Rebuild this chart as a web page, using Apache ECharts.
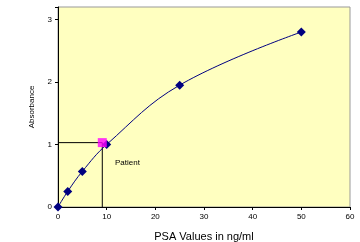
<!DOCTYPE html>
<html>
<head>
<meta charset="utf-8">
<script src="https://cdn.jsdelivr.net/npm/echarts@6/dist/echarts.min.js"></script>
<style>
  html, body { margin: 0; padding: 0; background: #fff; }
  #chart { width: 360px; height: 242px; }
</style>
</head>
<body>
<div id="chart"></div>
<script>
// standard curve
const psaValues = [0, 2, 5, 10, 25, 50];
const absorbance = [0, 0.25, 0.57, 1.0, 1.95, 2.8];
// patient sample
const patientPsa = [9.1];
const patientAbs = [1.03];

const chart = echarts.init(document.getElementById('chart'));

const curve = psaValues.map((x, i) => [x, absorbance[i]]);
const patient = patientPsa.map((x, i) => [x, patientAbs[i]]);
// drop lines from patient point to the axes
const guide = [[0, patientAbs[0]], [patientPsa[0], patientAbs[0]], [patientPsa[0], 0]];

chart.setOption({
  animation: false,
  grid: {
    left: 58,
    right: 10,
    top: 7,
    bottom: 35,
    outerBoundsMode: 'none',
    containLabel: false,
    show: true,
    backgroundColor: '#ffffc0',
    borderColor: '#999999',
    borderWidth: 1
  },
  xAxis: {
    type: 'value',
    min: 0,
    max: 60,
    interval: 10,
    name: 'PSA Values in ng/ml',
    nameLocation: 'middle',
    nameGap: 24,
    nameTextStyle: { fontFamily: 'Liberation Sans', fontSize: 11, color: '#000' },
    axisLine: { show: true, lineStyle: { color: '#000' } },
    axisTick: { show: true, length: 3, lineStyle: { color: '#000' } },
    axisLabel: { fontFamily: 'Liberation Sans', fontSize: 8, color: '#000', margin: 6 },
    splitLine: { show: false }
  },
  yAxis: {
    type: 'value',
    min: 0,
    max: 3.2,
    interval: 1,
    name: 'Absorbance',
    nameLocation: 'middle',
    nameGap: 22,
    nameTextStyle: { fontFamily: 'Liberation Sans', fontSize: 8, color: '#000' },
    axisLine: { show: true, lineStyle: { color: '#000' } },
    axisTick: { show: true, length: 3, lineStyle: { color: '#000' } },
    axisLabel: {
      fontFamily: 'Liberation Sans', fontSize: 8, color: '#000', margin: 6,
      formatter: v => (Number.isInteger(v) ? v : '')
    },
    splitLine: { show: false }
  },
  series: [
    {
      type: 'line',
      data: guide,
      symbol: 'none',
      lineStyle: { color: '#000', width: 1 },
      z: 2
    },
    {
      type: 'line',
      data: curve,
      smooth: 0.4,
      symbol: 'diamond',
      symbolSize: 9,
      itemStyle: { color: '#000080' },
      lineStyle: { color: '#000080', width: 1 },
      z: 3
    },
    {
      type: 'scatter',
      data: patient,
      symbol: 'rect',
      symbolSize: 9,
      itemStyle: { color: '#ff00ff' },
      z: 4
    }
  ],
  graphic: [
    {
      type: 'text',
      left: 115,
      top: 159,
      style: { text: 'Patient', font: '8px "Liberation Sans"', fill: '#000' }
    }
  ]
});
</script>
</body>
</html>
